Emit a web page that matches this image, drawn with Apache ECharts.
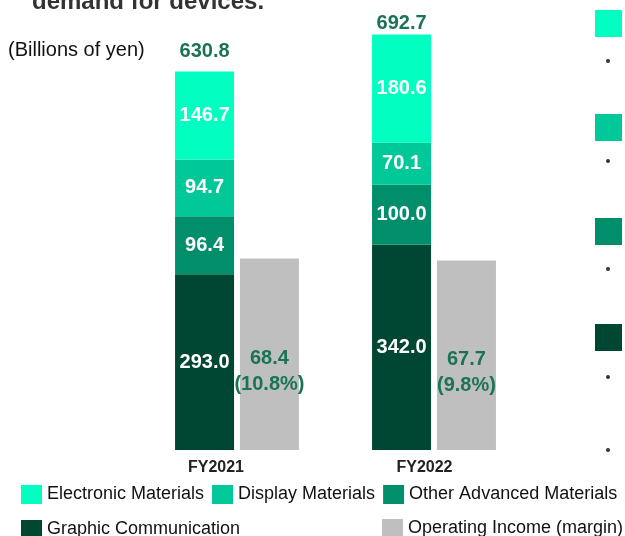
<!DOCTYPE html>
<html>
<head>
<meta charset="utf-8">
<script src="https://cdn.jsdelivr.net/npm/echarts@6/dist/echarts.min.js"></script>
<style>
  html, body { margin: 0; padding: 0; background: #fff; }
  #chart { width: 625px; height: 536px; }
</style>
</head>
<body>
<div id="chart"></div>
<script>
// data
const years = ['FY2021', 'FY2022']
const electronic = [146.7, 180.6]
const display = [94.7, 70.1]
const otherAdvanced = [96.4, 100.0]
const graphic = [293.0, 342.0]
const totals = [630.8, 692.7]
const opIncome = [68.4, 67.7]
const opMargin = [10.8, 9.8]

const FONT = '"Liberation Sans", Arial, sans-serif'
const GREEN_TEXT = '#1b7356'

const colors = {
  electronic: '#00ffc0',
  display: '#00c898',
  other: '#008f6a',
  graphic: '#004733',
  gray: '#bfbfbf'
}

const chart = echarts.init(document.getElementById('chart'))

function segLabel() {
  return {
    show: true,
    position: 'inside',
    color: '#fff',
    fontFamily: FONT,
    fontWeight: 'bold',
    fontSize: 20,
    formatter: p => p.value.toFixed(1)
  }
}

function stackSeries(name, values, color) {
  return {
    name,
    type: 'bar',
    stack: 'sales',
    yAxisIndex: 0,
    barWidth: 59,
    barGap: '10%',
    data: values,
    itemStyle: { color },
    label: segLabel()
  }
}

// right-hand slide decoration (squares + bullets)
const deco = []
const squareColors = [colors.electronic, colors.display, colors.other, colors.graphic]
const squareTops = [10, 114, 218, 324]
squareColors.forEach((c, i) => {
  deco.push({ type: 'rect', shape: { x: 595, y: squareTops[i], width: 27, height: 27 }, style: { fill: c } })
})
;[61, 161, 269, 377, 450].forEach(y => {
  deco.push({ type: 'circle', shape: { cx: 608, cy: y, r: 2 }, style: { fill: '#333' } })
})

const legendText = { fontFamily: FONT, fontSize: 18, color: '#111' }

const option = {
  animation: false,
  grid: { left: 138.5, right: 92.5, top: 30, bottom: 86 },
  xAxis: {
    type: 'category',
    data: [
      { value: years[0], textStyle: { padding: [0, 42, 0, 0] } },
      { value: years[1], textStyle: { padding: [0, 19, 0, 0] } }
    ],
    axisLine: { show: false },
    axisTick: { show: false },
    axisLabel: { margin: 10, fontFamily: FONT, fontWeight: 'bold', fontSize: 16, color: '#222' }
  },
  yAxis: [
    { type: 'value', min: 0, max: 700, show: false },
    { type: 'value', min: 0, max: 150, show: false }
  ],
  legend: [
    {
      left: 21, top: 485, padding: 0,
      itemWidth: 21, itemHeight: 19, itemGap: 8,
      icon: 'rect', textStyle: legendText,
      data: ['Electronic Materials', 'Display Materials', 'Other Advanced Materials']
    },
    {
      left: 21, top: 520, padding: 0,
      itemWidth: 21, itemHeight: 19,
      icon: 'rect', textStyle: legendText,
      data: ['Graphic Communication']
    },
    {
      left: 382, top: 519, padding: 0,
      itemWidth: 21, itemHeight: 19,
      icon: 'rect', textStyle: legendText,
      data: ['Operating Income (margin)']
    }
  ],
  graphic: [
    {
      type: 'text', left: 32, top: -10,
      style: { text: 'demand for devices.', font: 'bold 24px ' + FONT, fill: '#333' }
    },
    {
      type: 'text', left: 8, top: 40,
      style: { text: '(Billions of yen)', font: '20px ' + FONT, fill: '#111' }
    }
  ].concat(deco),
  series: [
    stackSeries('Graphic Communication', graphic, colors.graphic),
    stackSeries('Other Advanced Materials', otherAdvanced, colors.other),
    stackSeries('Display Materials', display, colors.display),
    stackSeries('Electronic Materials', electronic, colors.electronic),
    {
      // empty cap on the stack, only carries the total label
      name: 'Total',
      type: 'bar',
      stack: 'sales',
      yAxisIndex: 0,
      barWidth: 59,
      data: totals.map((t, i) => ({ value: 0, label: { distance: i === 0 ? 10 : 1 } })),
      itemStyle: { color: 'transparent' },
      label: {
        show: true,
        position: 'top',
        color: GREEN_TEXT,
        fontFamily: FONT,
        fontWeight: 'bold',
        fontSize: 20,
        formatter: p => totals[p.dataIndex].toFixed(1)
      }
    },
    {
      name: 'Operating Income (margin)',
      type: 'bar',
      yAxisIndex: 1,
      barWidth: 59,
      barGap: '10%',
      data: opIncome,
      itemStyle: { color: colors.gray },
      label: {
        show: true,
        position: 'inside',
        offset: [0, 17],
        color: GREEN_TEXT,
        fontFamily: FONT,
        fontWeight: 'bold',
        fontSize: 20,
        lineHeight: 26,
        formatter: p => p.value.toFixed(1) + '\n(' + opMargin[p.dataIndex].toFixed(1) + '%)'
      }
    }
  ]
}

chart.setOption(option)
</script>
</body>
</html>
